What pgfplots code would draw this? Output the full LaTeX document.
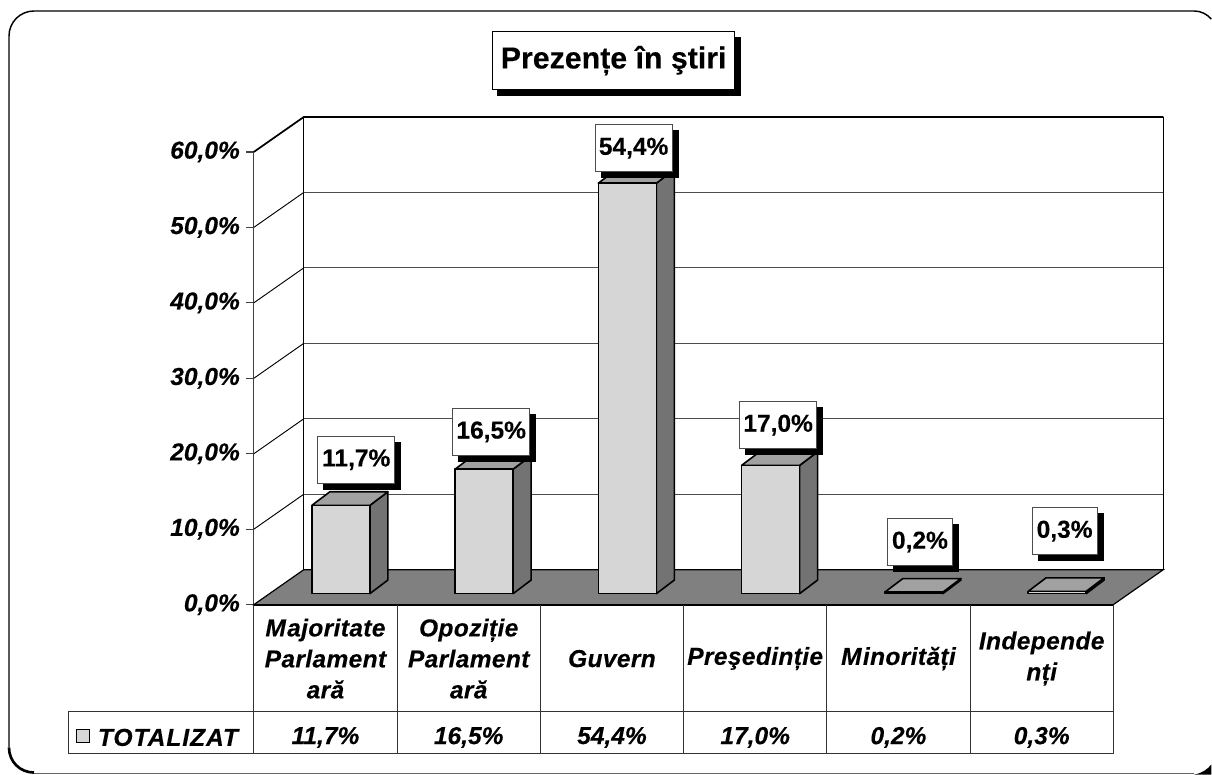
\documentclass[border=0pt]{standalone}
\usepackage{fontspec}
\setmainfont[BoldFeatures={FakeBold=0.25},BoldItalicFeatures={FakeBold=0.25}]{Liberation Sans}
\usepackage{pgfplots}
\pgfplotsset{compat=1.18}
\usetikzlibrary{shadows}

\definecolor{barfront}{gray}{0.84}
\definecolor{barside}{gray}{0.45}
\definecolor{bartop}{gray}{0.63}
\definecolor{floorgray}{gray}{0.5}
\definecolor{gridgray}{gray}{0.3}

% depth of the chart room and of one bar, in axis units
\def\wx{0.349}\def\wy{4.636}
\def\bw{0.405}\def\bx{0.1256}\def\by{1.8}
\def\bzero{1.457}

\newcommand{\cbar}[2]{% #1 left edge of front face, #2 value
  \pgfmathsetmacro\xa{#1}
  \pgfmathsetmacro\xb{#1+\bw}
  \pgfmathsetmacro\xc{#1+\bw+\bx}
  \pgfmathsetmacro\xd{#1+\bx}
  \pgfmathsetmacro\ya{\bzero}
  \pgfmathsetmacro\yb{\bzero+\by}
  \pgfmathsetmacro\yt{#2+\bzero}
  \pgfmathsetmacro\yu{#2+\bzero+\by}
  \addplot[draw=black, line width=1.2pt, fill=barside, line join=round]
    coordinates {(\xb,\ya) (\xc,\yb) (\xc,\yu) (\xb,\yt)} --cycle;
  \addplot[draw=black, line width=1.2pt, fill=bartop, line join=round]
    coordinates {(\xa,\yt) (\xb,\yt) (\xc,\yu) (\xd,\yu)} --cycle;
  \addplot[draw=black, line width=1.2pt, fill=barfront, line join=round]
    coordinates {(\xa,\ya) (\xb,\ya) (\xb,\yt) (\xa,\yt)} --cycle;
}
\tikzset{
  vallabel/.style={draw=black!70, line width=0.6pt, fill=white, inner sep=0pt,
    minimum height=35.5pt, font=\fontsize{18.4}{18}\selectfont\bfseries,
    copy shadow={draw=black, fill=black, shadow xshift=4.5pt, shadow yshift=-4.5pt}},
  rowval/.style={font=\fontsize{18.4}{18}\selectfont\bfseries\itshape, inner sep=0pt},
}

\begin{document}
\begin{tikzpicture}

% page and frame, in pixels of the reference (1px = 0.75pt)
\begin{scope}[x=0.75pt, y=-0.75pt, shift={(-190.5pt,453.75pt)}]
  \fill[white] (0,0) rectangle (1212,775);
  \draw[black, line width=1.1pt] (1212,19) .. controls (1208,14.5) and (1202,11) .. (1195,11)
    -- (34,11) .. controls (20.2,11) and (9,22.2) .. (9,36) -- (9,748);
  \draw[black, line width=2pt] (9,748) .. controls (9,762) and (20,773) .. (34,773);
  \draw[black!60, line width=1.2pt] (34,774) -- (1195,774);
  \fill[black] (1195,775) .. controls (1203,773.5) and (1208,770) .. (1212,765) -- (1212,775) -- cycle;
\end{scope}

\begin{axis}[
  scale only axis, width=645pt, height=339.75pt,
  xmin=0, xmax=6, ymin=0, ymax=60,
  clip=false,
  axis x line=bottom, axis y line=left,
  axis line style={-, black!75, line width=0.9pt},
  xtick={0.5,1.5,2.5,3.5,4.5,5.5},
  xticklabels={{M\kern1pt ajoritate\\Parlament\\ară},{Opoziție\\Parlament\\ară},Guvern,Preşedinție,{M\kern1pt inorități},{Independe\\nți}},
  x tick label style={align=center, anchor=center, yshift=-34.5pt,
    font=\fontsize{18.4}{23.25}\selectfont\bfseries\itshape\addfontfeatures{LetterSpace=1.5}},
  x tick style={draw=none},
  ytick={0,10,20,30,40,50,60},
  yticklabels={{0,0\%},{10,0\%},{20,0\%},{30,0\%},{40,0\%},{50,0\%},{60,0\%}},
  y tick label style={font=\fontsize{18.4}{18}\selectfont\bfseries\itshape, xshift=-1pt},
  y tick style={black!75, line width=0.9pt},
  tick align=outside, major tick length=6pt,
]

% walls: grid lines from the data axis, over the depth of the room
\addplot[draw=gridgray, line width=0.7pt] coordinates {(0.349,14.636) (6.349,14.636)};
\addplot[draw=gridgray, line width=0.7pt] coordinates {(0.349,24.636) (6.349,24.636)};
\addplot[draw=gridgray, line width=0.7pt] coordinates {(0.349,34.636) (6.349,34.636)};
\addplot[draw=gridgray, line width=0.7pt] coordinates {(0.349,44.636) (6.349,44.636)};
\addplot[draw=gridgray, line width=0.7pt] coordinates {(0.349,54.636) (6.349,54.636)};
\addplot[draw=black, line width=1.3pt] coordinates {(0,60) (0.349,64.636) (6.349,64.636)};
\addplot[draw=black, line width=0.8pt] coordinates {(6.349,64.636) (6.349,4.636)};
\addplot[draw=black, line width=0.7pt] coordinates {(0.349,4.636) (0.349,64.636)};
\addplot[draw=black, line width=0.7pt] coordinates {(0,10) (0.349,14.636)};
\addplot[draw=black, line width=0.7pt] coordinates {(0,20) (0.349,24.636)};
\addplot[draw=black, line width=0.7pt] coordinates {(0,30) (0.349,34.636)};
\addplot[draw=black, line width=0.7pt] coordinates {(0,40) (0.349,44.636)};
\addplot[draw=black, line width=0.7pt] coordinates {(0,50) (0.349,54.636)};

% floor
\addplot[draw=black, line width=0.9pt, fill=floorgray]
  coordinates {(0,0) (6,0) (6.349,4.636) (0.349,4.636)} --cycle;

% bars
\cbar{0.405}{11.7}
\cbar{1.405}{16.5}
\cbar{2.405}{54.4}
\cbar{3.405}{17.0}
\cbar{4.405}{0.2}
\cbar{5.405}{0.3}

% front floor edge
\addplot[draw=black, line width=1.6pt] coordinates {(0,0) (6,0)};

% data labels
\node[vallabel, minimum width=57.75pt] at (axis cs:0.715,19.2) {11,7\%};
\node[vallabel, minimum width=57.75pt] at (axis cs:1.657,22.9) {16,5\%};
\node[vallabel, minimum width=57.75pt] at (axis cs:2.651,60.5) {54,4\%};
\node[vallabel, minimum width=57.75pt] at (axis cs:3.660,23.8) {17,0\%};
\node[vallabel, minimum width=48.75pt] at (axis cs:4.650,8.3) {0,2\%};
\node[vallabel, minimum width=48.75pt] at (axis cs:5.660,9.75) {0,3\%};

% data table under the chart
\draw[black!80, line width=0.7pt] (axis cs:0,0) -- (axis cs:0,-19.7);
\draw[black!80, line width=0.7pt] (axis cs:1,0) -- (axis cs:1,-19.7);
\draw[black!80, line width=0.7pt] (axis cs:2,0) -- (axis cs:2,-19.7);
\draw[black!80, line width=0.7pt] (axis cs:3,0) -- (axis cs:3,-19.7);
\draw[black!80, line width=0.7pt] (axis cs:4,0) -- (axis cs:4,-19.7);
\draw[black!80, line width=0.7pt] (axis cs:5,0) -- (axis cs:5,-19.7);
\draw[black!80, line width=0.7pt] (axis cs:6,0) -- (axis cs:6,-19.7);
\draw[black!80, line width=0.7pt] (axis cs:-1.293,-14.2) rectangle (axis cs:6,-19.7);
\draw[black, line width=0.6pt, fill=barfront] (axis cs:-1.242,-16.6) rectangle (axis cs:-1.147,-18.3);
\node[anchor=west, inner sep=0pt, font=\fontsize{18.4}{18}\selectfont\bfseries\itshape]
  at (axis cs:-1.09,-17.6) {\addfontfeatures{LetterSpace=4}TOTALIZAT};
\node[rowval] at (axis cs:0.5,-17.6) {11,7\%};
\node[rowval] at (axis cs:1.5,-17.6) {16,5\%};
\node[rowval] at (axis cs:2.5,-17.6) {54,4\%};
\node[rowval] at (axis cs:3.5,-17.6) {17,0\%};
\node[rowval] at (axis cs:4.5,-17.6) {0,2\%};
\node[rowval] at (axis cs:5.5,-17.6) {0,3\%};

% title box
\node[draw=black, line width=0.9pt, fill=white, inner sep=0pt, minimum width=181.5pt,
  minimum height=43.5pt, font=\fontsize{22.75}{24}\selectfont\bfseries,
  copy shadow={draw=black, fill=black, shadow xshift=4pt, shadow yshift=-4.5pt}]
  at (axis cs:2.512,72.1) {Prezențe în ştiri};

\end{axis}
\end{tikzpicture}
\end{document}
